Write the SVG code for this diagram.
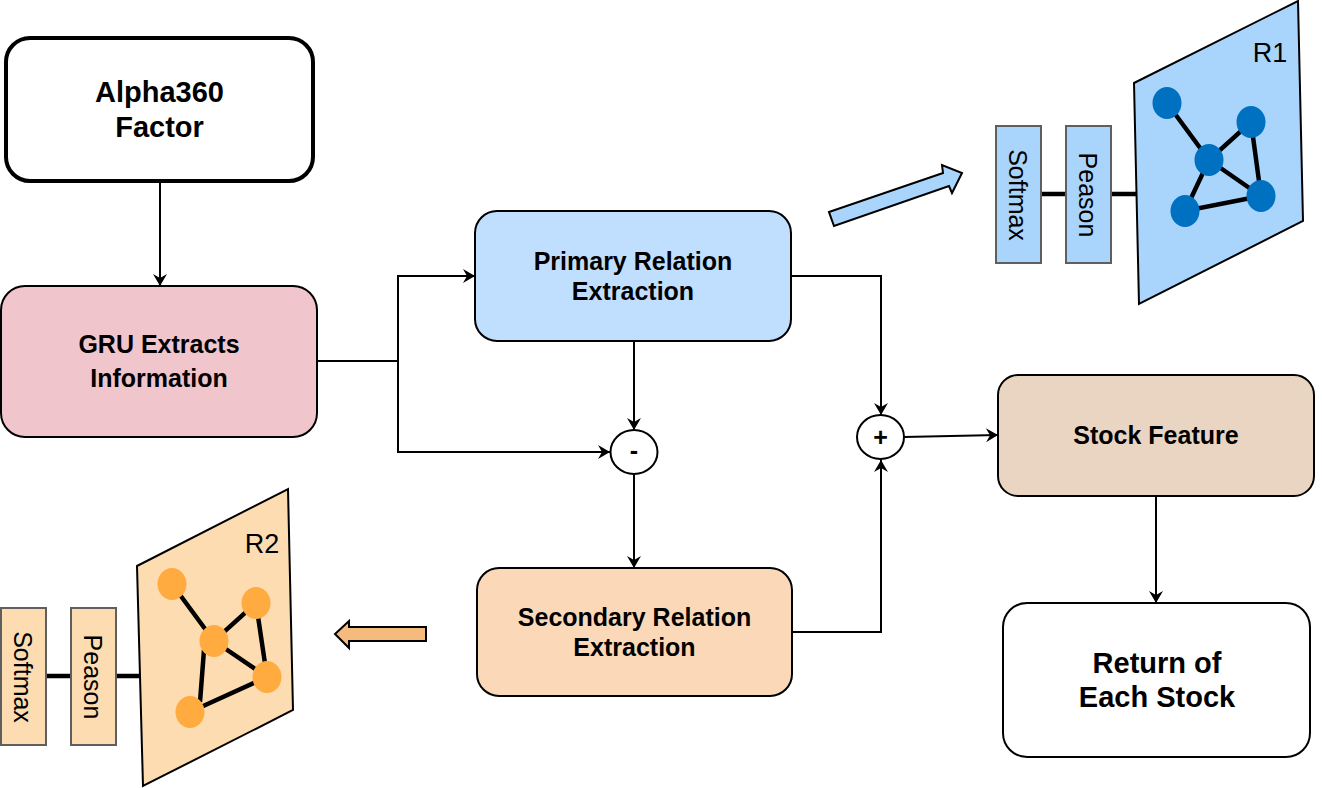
<svg xmlns="http://www.w3.org/2000/svg" width="1322" height="788" viewBox="0 0 1322 788">
<style>
text{font-family:"Liberation Sans",Arial,sans-serif;fill:#000;text-anchor:middle}
.b{font-weight:bold}
.box{stroke:#000;stroke-width:2}
.c{fill:none;stroke:#000;stroke-width:2}
.t{stroke:#000;stroke-width:4.500;fill:none}
.pl{stroke:#000;stroke-width:2}
.sq{stroke:#5f5f5f;stroke-width:2}
.blue{fill:#a9d5fd}
.or{fill:#fddcb1}
.nb{fill:#0070c0}
.no{fill:#ffab40}
</style>
<defs>
<marker id="a" markerUnits="userSpaceOnUse" markerWidth="14" markerHeight="20" refX="12" refY="7" orient="auto" overflow="visible">
<path d="M0 0L12 7L0 14L4 7Z" fill="#000"/>
</marker>
</defs>
<g id="connectors">
<path class="c" marker-end="url(#a)" d="M160 181V286"/>
<path class="c" marker-end="url(#a)" d="M317 361H398V276H475"/>
<path class="c" marker-end="url(#a)" d="M398 361V452H610"/>
<path class="c" marker-end="url(#a)" d="M634 341V430"/>
<path class="c" marker-end="url(#a)" d="M634 474V568"/>
<path class="c" marker-end="url(#a)" d="M791 276H881V415"/>
<path class="c" marker-end="url(#a)" d="M792 632H881V460"/>
<path class="c" marker-end="url(#a)" d="M904 437L998 435"/>
<path class="c" marker-end="url(#a)" d="M1156 496V603"/>
</g>
<g id="alpha"><rect class="box" x="6" y="38" width="307" height="143" rx="24" fill="#fff" style="stroke-width:4"/><text class="b" font-size="29" x="159.500" y="102">Alpha360</text><text class="b" font-size="29" x="159.500" y="137">Factor</text></g>
<g id="gru"><rect class="box" x="1" y="286" width="316" height="151" rx="24" fill="#f0c5cc"/><text class="b" font-size="25" x="159" y="353">GRU Extracts</text><text class="b" font-size="25" x="159" y="387">Information</text></g>
<g id="primary"><rect class="box" x="475" y="211" width="316" height="130" rx="22" fill="#c0dfff"/><text class="b" font-size="25" x="633" y="270">Primary Relation</text><text class="b" font-size="25" x="633" y="300">Extraction</text></g>
<g id="secondary"><rect class="box" x="477" y="568" width="315" height="128" rx="22" fill="#fbd9b8"/><text class="b" font-size="25" x="634.500" y="626">Secondary Relation</text><text class="b" font-size="25" x="634.500" y="656">Extraction</text></g>
<g id="stock"><rect class="box" x="998" y="375" width="316" height="121" rx="20" fill="#e9d5c1"/><text class="b" font-size="25" x="1156" y="444">Stock Feature</text></g>
<g id="return"><rect class="box" x="1003" y="603" width="307" height="154" rx="24" fill="#fff"/><text class="b" font-size="29" x="1157" y="673">Return of</text><text class="b" font-size="29" x="1157" y="707">Each Stock</text></g>
<g id="minus"><ellipse class="box" cx="634" cy="452" rx="23.500" ry="22" fill="#fff"/><text class="b" font-size="25" x="634" y="459">-</text></g>
<g id="plus"><ellipse class="box" cx="880.500" cy="437" rx="23.500" ry="22" fill="#fff"/><text class="b" font-size="25" x="880.500" y="446">+</text></g>
<g id="arrow-r1"><path class="pl blue" d="M829 212L943 173L942 165L962 173L952 193L949 186L834 226Z"/></g>
<g id="r1">
<path class="t" d="M1041 194H1066M1111 194H1137"/>
<rect class="sq blue" x="996" y="126" width="45" height="137"/>
<rect class="sq blue" x="1066" y="126" width="45" height="137"/>
<text font-size="25" transform="translate(1009 195) rotate(90)">Softmax</text>
<text font-size="25" transform="translate(1079 195) rotate(90)">Peason</text>
<path class="pl blue" d="M1134 83L1298 1L1303 221L1139 304Z"/>
<text font-size="27" x="1270" y="62">R1</text>
<path class="t" d="M1167 103L1209 160L1251 122L1261 196L1209 160L1185 211L1261 196"/>
<ellipse class="nb" cx="1167" cy="103" rx="14.500" ry="16"/><ellipse class="nb" cx="1251" cy="122" rx="14.500" ry="16"/><ellipse class="nb" cx="1209" cy="160" rx="14.500" ry="16"/><ellipse class="nb" cx="1261" cy="196" rx="14.500" ry="16"/><ellipse class="nb" cx="1185" cy="211" rx="14.500" ry="16"/>
</g>
<g id="arrow-r2"><path d="M426 627H349V621L335 634L349 648V641H426Z" fill="#f5bb7d" stroke="#000" stroke-width="2"/></g>
<g id="r2">
<path class="t" d="M46 676H71M116 676H139"/>
<rect class="sq or" x="1" y="608" width="45" height="137"/>
<rect class="sq or" x="71" y="608" width="45" height="137"/>
<text font-size="25" transform="translate(14 677) rotate(90)">Softmax</text>
<text font-size="25" transform="translate(84 677) rotate(90)">Peason</text>
<path class="pl or" d="M137 566L288 489L293 710L143 786Z"/>
<text font-size="27" x="262" y="553">R2</text>
<path class="t" d="M172 584L214 641L256 603L267 677L214 641M204 650L200 702M190 712L267 677"/>
<ellipse class="no" cx="172" cy="584" rx="14.500" ry="16"/><ellipse class="no" cx="256" cy="603" rx="14.500" ry="16"/><ellipse class="no" cx="214" cy="641" rx="14.500" ry="16"/><ellipse class="no" cx="267" cy="677" rx="14.500" ry="16"/><ellipse class="no" cx="190" cy="712" rx="14.500" ry="16"/>
</g>
</svg>
